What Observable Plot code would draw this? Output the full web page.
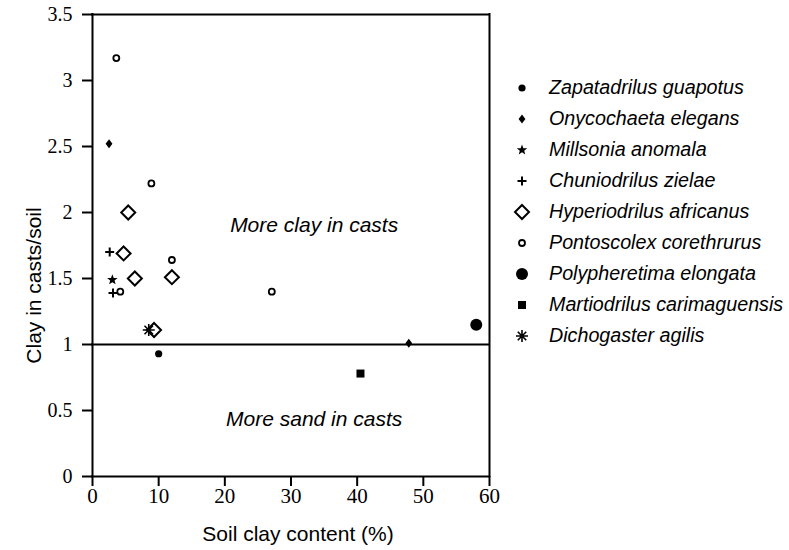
<!DOCTYPE html>
<html><head><meta charset="utf-8">
<script src="https://cdn.jsdelivr.net/npm/d3@7"></script>
<script src="https://cdn.jsdelivr.net/npm/@observablehq/plot@0.6"></script>
<style>
body{margin:0;background:#fff;}
#wrap{position:relative;width:789px;height:550px;background:#fff;}
#legend{position:absolute;left:508px;top:72px;font-family:"Liberation Sans",Arial,sans-serif;font-style:italic;font-size:19.7px;color:#000;}
.row{display:flex;align-items:center;height:31px;white-space:nowrap;}
.row svg{width:28px;height:24px;margin-right:13px;flex:none;}
</style></head><body><div id="wrap"><div id="legend"></div></div>
<script>
// ---- data ----
const species = [
  "Zapatadrilus guapotus",
  "Onycochaeta elegans",
  "Millsonia anomala",
  "Chuniodrilus zielae",
  "Hyperiodrilus africanus",
  "Pontoscolex corethrurus",
  "Polypheretima elongata",
  "Martiodrilus carimaguensis",
  "Dichogaster agilis"
];
// soil clay content (%) per species
const soilClay = [
  [10.0],
  [2.5, 47.8],
  [3.0],
  [2.6, 3.1],
  [5.4, 4.7, 6.4, 12.0, 9.3],
  [3.6, 8.9, 12.0, 27.1, 4.2],
  [58.0],
  [40.5],
  [8.5]
];
// clay in casts / soil ratio per species
const castRatio = [
  [0.93],
  [2.52, 1.01],
  [1.49],
  [1.70, 1.39],
  [2.00, 1.69, 1.50, 1.51, 1.11],
  [3.17, 2.22, 1.64, 1.40, 1.40],
  [1.15],
  [0.78],
  [1.11]
];
const xTicks = [0, 10, 20, 30, 40, 50, 60];
const yTicks = [0, 0.5, 1, 1.5, 2, 2.5, 3, 3.5];
const noteLabels = ["More clay in casts", "More sand in casts"];
const noteX = [33.5, 33.5];
const noteY = [1.9, 0.43];
const xTitle = "Soil clay content (%)";
const yTitle = "Clay in casts/soil";

// ---- symbols & styles ----
function custom(fn){ return {draw(ctx, size){ fn(ctx, Math.sqrt(size / Math.PI)); }}; }
const symbols = {
  dot: custom((c, r) => { c.moveTo(r, 0); c.arc(0, 0, r, 0, 2 * Math.PI); }),
  smallDiamond: custom((c, r) => { c.moveTo(0, -r * 1.25); c.lineTo(r * 0.95, 0); c.lineTo(0, r * 1.25); c.lineTo(-r * 0.95, 0); c.closePath(); }),
  star: custom((c, r) => { for (let i = 0; i < 10; i++) { const a = -Math.PI / 2 + i * Math.PI / 5; const rr = i % 2 ? r * 0.42 : r; const x = rr * Math.cos(a), y = rr * Math.sin(a); if (i) c.lineTo(x, y); else c.moveTo(x, y); } c.closePath(); }),
  plus: custom((c, r) => { c.moveTo(-r, 0); c.lineTo(r, 0); c.moveTo(0, -r); c.lineTo(0, r); }),
  openDiamond: custom((c, r) => { c.moveTo(0, -r); c.lineTo(r, 0); c.lineTo(0, r); c.lineTo(-r, 0); c.closePath(); }),
  square: custom((c, r) => { c.rect(-r, -r, 2 * r, 2 * r); }),
  snowflake: custom((c, r) => {
    for (let i = 0; i < 8; i++) {
      const a = i * Math.PI / 4, ca = Math.cos(a), sa = Math.sin(a);
      c.moveTo(0.3 * r * ca, 0.3 * r * sa); c.lineTo(r * ca, r * sa);
    }
    c.moveTo(0.18 * r, 0); c.arc(0, 0, 0.18 * r, 0, 2 * Math.PI);
  })
};
const styles = [
  {symbol: symbols.dot, r: 3.6, fill: "black", stroke: "none", sw: 0},
  {symbol: symbols.smallDiamond, r: 3.6, fill: "black", stroke: "none", sw: 0},
  {symbol: symbols.star, r: 5.5, fill: "black", stroke: "none", sw: 0},
  {symbol: symbols.plus, r: 4.5, fill: "none", stroke: "black", sw: 2},
  {symbol: symbols.openDiamond, r: 7, fill: "none", stroke: "black", sw: 2},
  {symbol: symbols.dot, r: 3, fill: "white", stroke: "black", sw: 1.8},
  {symbol: symbols.dot, r: 6, fill: "black", stroke: "none", sw: 0},
  {symbol: symbols.square, r: 4, fill: "black", stroke: "none", sw: 0},
  {symbol: symbols.snowflake, r: 6, fill: "none", stroke: "black", sw: 1.6}
];

const serif = "Liberation Serif";
const sans = "Liberation Sans";

const pointMarks = species.map((s, i) => {
  const rows = soilClay[i].map((x, j) => ({species: s, x, y: castRatio[i][j]}));
  const st = styles[i];
  return Plot.dot(rows, {x: "x", y: "y", symbol: st.symbol, r: st.r, fill: st.fill, stroke: st.stroke, strokeWidth: st.sw});
});

const notes = noteLabels.map((t, i) => ({label: t, x: noteX[i], y: noteY[i]}));

const chart = Plot.plot({
  width: 789,
  height: 550,
  marginLeft: 92,
  marginRight: 300,
  marginTop: 14,
  marginBottom: 74,
  style: {background: "white", color: "black", overflow: "visible"},
  x: {domain: [0, 60]},
  y: {domain: [0, 3.5]},
  marks: [
    Plot.axisX(xTicks, {tickSize: 10, strokeWidth: 2, tickFormat: () => "", label: null}),
    Plot.axisY(yTicks, {tickSize: 10, strokeWidth: 2, tickFormat: () => "", label: null}),
    Plot.text(xTicks, {x: d => d, text: d => String(d), frameAnchor: "bottom", lineAnchor: "top", dy: 12, fontSize: 21, fontFamily: serif}),
    Plot.text(yTicks, {y: d => d, text: d => String(d), frameAnchor: "left", textAnchor: "end", dx: -20, fontSize: 20, fontFamily: serif}),
    Plot.ruleY([0, 1, 3.5], {strokeWidth: 2, strokeLinecap: "square"}),
    Plot.ruleX([0, 60], {strokeWidth: 2, strokeLinecap: "square"}),
    Plot.text(notes, {x: "x", y: "y", text: "label", fontSize: 21, fontStyle: "italic", fontFamily: sans}),
    Plot.text([xTitle], {text: d => d, frameAnchor: "bottom", lineAnchor: "middle", dx: 7, dy: 58, fontSize: 21, fontFamily: sans}),
    Plot.text([yTitle], {text: d => d, frameAnchor: "left", textAnchor: "middle", lineAnchor: "middle", rotate: -90, dx: -58, dy: 40, fontSize: 21, fontFamily: sans}),
    ...pointMarks
  ]
});
document.getElementById("wrap").prepend(chart);

// ---- legend ----
const legend = d3.select("#legend");
species.forEach((s, i) => {
  const st = styles[i];
  const row = legend.append("div").attr("class", "row");
  const svg = row.append("svg").attr("viewBox", "-14 -12 28 24");
  svg.append("path").attr("d", d3.symbol(st.symbol, st.r * st.r * Math.PI)())
    .attr("fill", st.fill).attr("stroke", st.stroke).attr("stroke-width", st.sw);
  row.append("span").text(s);
});
</script>
</body></html>
